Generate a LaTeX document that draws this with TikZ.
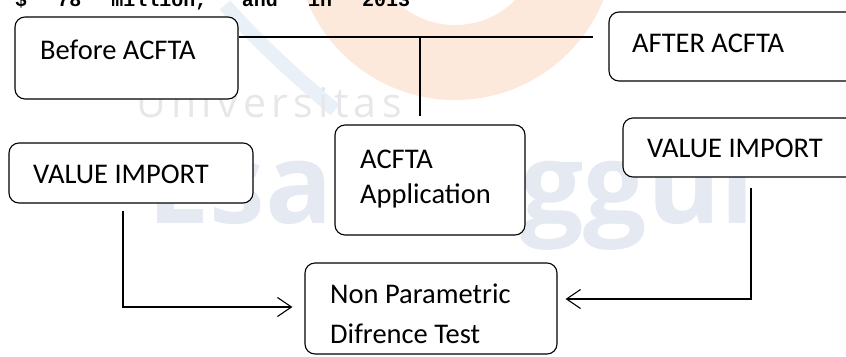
\documentclass[tikz,border=0pt]{standalone}
\usepackage{fontspec}
\setmainfont{Carlito}
\newfontfamily\wmfont{Open Sans}
\newfontfamily\topfont{Liberation Mono}
\usetikzlibrary{arrows.meta}
\definecolor{wmblue}{RGB}{228,233,242}
\definecolor{wmgray}{RGB}{231,231,234}
\definecolor{wmorange}{RGB}{253,233,220}
\definecolor{wmswoosh}{RGB}{234,240,247}
\newcommand{\wmsp}{\kern5.3bp}
\tikzset{
  box/.style={draw, line width=1.1bp, rounded corners=10bp, inner sep=0pt},
  lbl/.style={anchor=base west, inner sep=0pt, font=\fontsize{28.5bp}{34bp}\selectfont},
  conn/.style={line width=1.1bp},
  arr/.style={conn, -{Straight Barb[length=14bp, width=19bp, line width=1.1bp]}}
}
\begin{document}
\begin{tikzpicture}[x=1bp, y=-1bp]
\useasboundingbox (0,0) rectangle (846,356);
\clip (0,0) rectangle (846,356);
% watermark
\fill[wmorange, even odd rule] (455,-60) circle (160) circle (85);
\draw[wmswoosh, line width=14bp] (225,5) .. controls (260,45) and (300,80) .. (335,110);
\node[anchor=base west, inner sep=0pt, text=wmgray, font=\wmfont\fontsize{41bp}{48bp}\selectfont] (wm1) at (136,117) {U\wmsp n\wmsp i\wmsp v\wmsp e\wmsp r\wmsp s\wmsp i\wmsp t\wmsp a\wmsp s};
\node[anchor=base west, inner sep=0pt, text=wmblue, font=\wmfont\bfseries\fontsize{112bp}{120bp}\selectfont] (wm2) at (147,223) {Esa Unggul};
\node[anchor=base west, inner sep=0pt, font=\topfont\bfseries\fontsize{20bp}{22bp}\selectfont] (top) at (15,6) {\makebox[395bp][s]{\$ 78 million, and in 2013}};
% boxes
\node[box, fill=white, minimum width=223bp, minimum height=82bp] (before) at (126.5,58) {};
\node[box, fill=white, minimum width=270bp, minimum height=69bp] (after) at (744,46.5) {};
\node[box, fill=white, minimum width=190bp, minimum height=110bp] (app) at (430,180) {};
\node[box, fill=white, minimum width=244bp, minimum height=60bp] (vl) at (131,173) {};
\node[box, fill=white, minimum width=256bp, minimum height=59bp] (vr) at (751,147.5) {};
\node[box, fill=white, minimum width=252bp, minimum height=91bp] (np) at (431,308.5) {};
% texts
\node[lbl] (tbefore) at (40,59) {Before ACFTA};
\node[lbl] (tafter) at (632,52) {AFTER ACFTA};
\node[lbl] (tapp1) at (360,168) {ACFTA};
\node[lbl] (tapp2) at (360,203) {Application};
\node[lbl] (tvl) at (33,183) {VALUE IMPORT};
\node[lbl] (tvr) at (647,157) {VALUE IMPORT};
\node[lbl] (tnp1) at (330,303) {Non Parametric};
\node[lbl] (tnp2) at (330,343) {Difrence Test};
% connectors
\coordinate (jr) at (593,37);
\coordinate (jm) at (420,37);
\draw[conn] (before.east |- jr) -- (jr);
\draw[conn, shorten >=8bp] (jm) -- (app.north -| jm);
\draw[arr, shorten <=7bp, shorten >=12bp] ([xshift=-8bp]vl.south) |- ([yshift=1.5bp]np.west);
\draw[arr, shorten <=10bp, shorten >=8bp] (vr.south) |- ([yshift=9.5bp]np.east);
\end{tikzpicture}
\end{document}
